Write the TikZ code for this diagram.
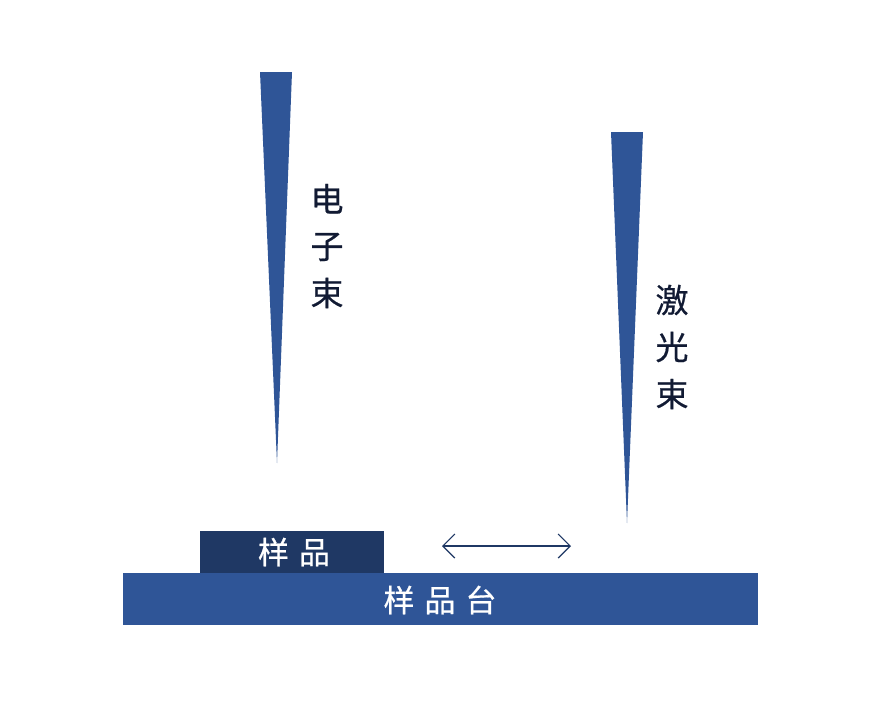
\documentclass[tikz,border=0pt]{standalone}
\usepackage{fontspec}
\newfontfamily\cjk[FakeBold=0.6]{Noto Sans CJK SC}
\usetikzlibrary{arrows.meta}
\definecolor{beam}{HTML}{2F5597}
\definecolor{samp}{HTML}{1F3864}
\definecolor{txt}{HTML}{111A33}
\tikzset{
  beamfill/.style={fill=beam, draw=none},
  vlabel/.style={font=\cjk\fontsize{33}{47}\selectfont, text=txt, align=center, inner sep=0pt},
  wlabel/.style={font=\cjk\fontsize{31}{30}\selectfont, text=white, inner sep=0pt},
}
\begin{document}
\begin{tikzpicture}[x=1pt,y=-1pt]
\useasboundingbox (0,0) rectangle (881,707);
\fill[white] (0,0) rectangle (881,707);
% electron beam
\fill[beamfill] (260,72) -- (292,72) -- (277,463) -- cycle;
\node[vlabel] (eb) at (327,246) {电\\子\\束};
% laser beam
\fill[beamfill] (611,132) -- (643,132) -- (627,523) -- cycle;
\node[vlabel] (lb) at (672,347) {激\\光\\束};
% stage
\node[fill=beam, minimum width=635pt, minimum height=52pt, inner sep=0pt, anchor=north west] (stage) at (123,573) {};
\node[wlabel] (stagetxt) at (440,600) {样\hspace{10pt}品\hspace{10pt}台};
% sample
\node[fill=samp, minimum width=184pt, minimum height=42pt, inner sep=0pt, anchor=south west] (sample) at (200,573) {};
\node[wlabel] (sampletxt) at (294,552) {样\hspace{10pt}品};
% arrow
\coordinate (al) at (442,546);
\coordinate (ar) at (571,546);
\draw[samp, line width=1.2pt, {Straight Barb[length=12pt,width=24pt]}-{Straight Barb[length=12pt,width=24pt]}] (al) -- (ar);
\end{tikzpicture}
\end{document}
